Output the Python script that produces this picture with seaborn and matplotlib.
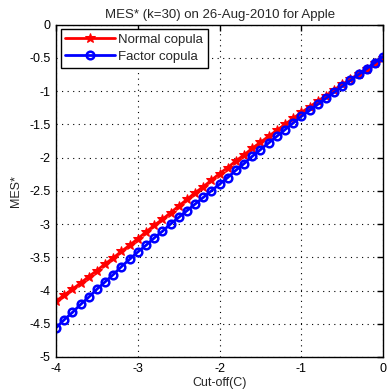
import matplotlib
matplotlib.use("Agg")
import matplotlib.pyplot as plt
import seaborn as sns
import pandas as pd
from matplotlib.ticker import FormatStrFormatter

cutoff = [-4.0, -3.9, -3.8, -3.7, -3.6, -3.5, -3.4, -3.3, -3.2, -3.1, -3.0,
          -2.9, -2.8, -2.7, -2.6, -2.5, -2.4, -2.3, -2.2, -2.1, -2.0,
          -1.9, -1.8, -1.7, -1.6, -1.5, -1.4, -1.3, -1.2, -1.1, -1.0,
          -0.9, -0.8, -0.7, -0.6, -0.5, -0.4, -0.3, -0.2, -0.1, 0.0]
normal_copula = [-4.16, -4.07, -3.98, -3.89, -3.79, -3.70, -3.60, -3.51, -3.41, -3.32, -3.22,
                 -3.12, -3.02, -2.93, -2.83, -2.73, -2.63, -2.53, -2.44, -2.34, -2.24,
                 -2.15, -2.05, -1.96, -1.86, -1.77, -1.68, -1.59, -1.50, -1.41, -1.32,
                 -1.24, -1.15, -1.07, -0.98, -0.90, -0.82, -0.74, -0.66, -0.58, -0.50]
factor_copula = [-4.56, -4.44, -4.33, -4.21, -4.10, -3.98, -3.87, -3.76, -3.64, -3.53, -3.42,
                 -3.32, -3.21, -3.11, -3.00, -2.90, -2.80, -2.70, -2.60, -2.50, -2.40,
                 -2.30, -2.19, -2.09, -1.98, -1.88, -1.78, -1.68, -1.58, -1.48, -1.38,
                 -1.29, -1.20, -1.11, -1.02, -0.93, -0.84, -0.75, -0.66, -0.57, -0.48]
x_ticks = [-4, -3, -2, -1, 0]
y_ticks = [-5, -4.5, -4, -3.5, -3, -2.5, -2, -1.5, -1, -0.5, 0]

sns.set_style("white")
plt.rcParams['font.family'] = ['Liberation Sans', 'DejaVu Sans']
plt.rcParams['axes.unicode_minus'] = False

fig = plt.figure(figsize=(3.89, 3.91), dpi=100)
ax = fig.add_axes([0.144, 0.087, 0.841, 0.850])

df_n = pd.DataFrame({"C": cutoff, "MES": normal_copula})
df_f = pd.DataFrame({"C": cutoff, "MES": factor_copula})

sns.lineplot(data=df_n, x="C", y="MES", ax=ax, color="red", linewidth=2,
             marker="*", markersize=7.5, markeredgecolor="red", markerfacecolor="red",
             label="Normal copula")
sns.lineplot(data=df_f, x="C", y="MES", ax=ax, color="blue", linewidth=2,
             marker="o", markersize=5.5, markeredgecolor="blue", markerfacecolor="none",
             markeredgewidth=1.8, label="Factor copula")

ax.set_xlim(-4, 0)
ax.set_ylim(-5, 0)
ax.set_xticks(x_ticks)
ax.set_yticks(y_ticks)
ax.yaxis.set_major_formatter(FormatStrFormatter('%g'))
ax.xaxis.set_major_formatter(FormatStrFormatter('%g'))
ax.grid(True, color="black", linestyle=(0, (1, 4)), linewidth=0.8)
ax.tick_params(direction="in", top=True, right=True, length=4, width=1,
               labelsize=9, colors="black", pad=4)
for s in ax.spines.values():
    s.set_visible(True)
    s.set_color("black")
    s.set_linewidth(1)
ax.set_xlabel("Cut-off(C)", fontsize=9, labelpad=2)
ax.set_ylabel("MES*", fontsize=9, labelpad=5)
ax.set_title("MES* (k=30) on 26-Aug-2010 for Apple", fontsize=9.5, pad=5)

leg = ax.legend(loc="upper left", fontsize=9.5, frameon=True, fancybox=False,
                edgecolor="black", borderaxespad=0.35, handlelength=3.8,
                borderpad=0.35, labelspacing=0.35, handletextpad=0.2)
leg.get_frame().set_linewidth(1)
leg.get_frame().set_alpha(1)

fig.savefig("out.png", dpi=100)
